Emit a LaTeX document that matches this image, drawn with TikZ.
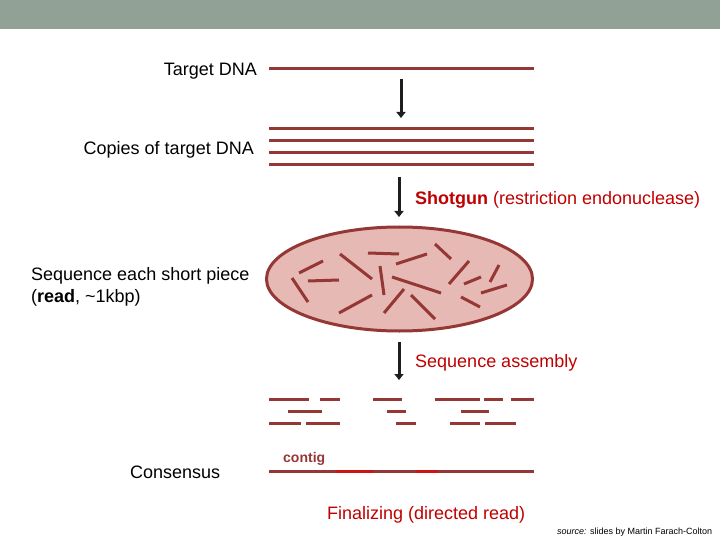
\documentclass[tikz,border=0pt]{standalone}
\usepackage{fontspec}
\setmainfont{Liberation Sans}
\usetikzlibrary{arrows.meta}

\definecolor{dnabrown}{RGB}{149,55,53}
\definecolor{poolpink}{RGB}{230,185,180}
\definecolor{bargray}{RGB}{146,161,150}
\definecolor{stepred}{RGB}{192,0,0}
\definecolor{arrowgray}{RGB}{30,30,32}
\definecolor{gapred}{RGB}{205,20,20}

\tikzset{
  strand/.style={dnabrown, line width=3pt},
  stage/.style={-{Triangle[width=9pt,length=6pt]}, arrowgray, line width=3pt},
  dnatext/.style={font=\fontsize{18}{22}\selectfont, inner sep=0pt},
  steptext/.style={dnatext, stepred, anchor=west},
}

\begin{document}
\begin{tikzpicture}[x=1pt, y=-1pt]
          \useasboundingbox (0,0) rectangle (720,540);
          \fill[bargray] (0,0) rectangle (720,29);

          \node[dnatext, anchor=east] (target) at (257,71.5) {Target DNA};
          \draw[strand] (269,69) -- (534,69);

          \coordinate (cut s) at (401,79);
          \coordinate (cut e) at (401,118);
          \draw[stage] (cut s) -- (cut e);

          \node[dnatext, anchor=east] (copies) at (254,149.5) {Copies of target DNA};
          \foreach \y in {129,141,153,165}{
            \draw[strand] (269,\y) -- (534,\y);
          }

          \coordinate (gun s) at (399,177);
          \coordinate (gun e) at (399,217);
          \draw[stage] (gun s) -- (gun e);
          \node[steptext] (shotgun) at (415,199.5) {\textbf{Shotgun} (restriction endonuclease)};

          \begin{scope}
            \draw[strand, fill=poolpink] (399.5,279) ellipse [x radius=133, y radius=52];
            \foreach \xa/\ya/\xb/\yb in {299/273/323/261, 292/278/308/302, 308/281/339/280,
                340/254/372/279, 368/253/399/254, 380/266/384/295, 396/264/427/254,
                435/244/451/259, 449/284/469/261, 392/277/441/293, 339/313/372/295,
                384/313/404/289, 411/295/435/319, 461/297/480/307, 464/284/481/277,
                490/282/499/265, 481/293/507/285}{
              \draw[strand] (\xa,\ya) -- (\xb,\yb);
            }
          \end{scope}
          \node[dnatext, anchor=west, align=left] (reads) at (31,286.5)
            {Sequence each short piece\\(\textbf{read}, \textasciitilde1kbp)};

          \coordinate (asm s) at (399,342);
          \coordinate (asm e) at (399,380);
          \draw[stage] (asm s) -- (asm e);
          \node[steptext] (assembly) at (415,362.5) {Sequence assembly};

          \foreach \xa/\xb/\y in {269/309/399, 320/340/399, 373/402/399, 435/480/399,
              484/503/399, 511/534/399, 288/322/411, 387/406/411, 461/489/411,
              269/301/423, 306/340/423, 396/416/423, 450/480/423, 485/516/423}{
            \draw[strand] (\xa,\y) -- (\xb,\y);
          }

          \node[dnatext, anchor=west] (consensus) at (130,472.5) {Consensus};
          \node[dnabrown, font=\fontsize{14}{16}\selectfont\bfseries, inner sep=0pt, anchor=west] (contig) at (283,458.5) {contig};
          \draw[strand] (269,471) -- (534,471);
          \foreach \xa/\xb in {336/373, 416/438}{
            \draw[gapred, line width=3pt] (\xa,471) -- (\xb,471);
          }

          \node[steptext] (final) at (327,514.5) {Finalizing (directed read)};
          \node[font=\fontsize{9}{10}\selectfont, inner sep=0pt, anchor=west] (credit) at (557,532.5)
            {\textit{source:} slides by Martin Farach-Colton};
        \end{tikzpicture}
\end{document}
